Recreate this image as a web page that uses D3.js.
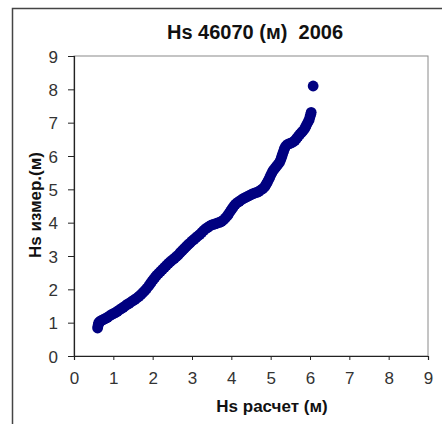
<!DOCTYPE html>
<html><head><meta charset="utf-8">
<script src="https://cdn.jsdelivr.net/npm/d3@7"></script>
<style>body{margin:0;background:#fff}svg{display:block}</style>
</head><body>
<script>
const title = "Hs 46070 (м)  2006";
const xTitle = "Hs расчет (м)";
const yTitle = "Hs измер.(м)";
const xTicks = [0,1,2,3,4,5,6,7,8,9];
const yTicks = [0,1,2,3,4,5,6,7,8,9];
const hsCalc = [0.60,0.61,0.62,0.63,0.66,0.70,0.75,0.80,0.85,0.90,0.95,1.00,1.05,1.10,1.15,1.20,1.25,1.30,1.35,1.40,1.45,1.50,1.55,1.60,1.65,1.70,1.75,1.80,1.85,1.90,1.94,1.98,2.02,2.06,2.10,2.15,2.20,2.25,2.30,2.35,2.40,2.45,2.50,2.55,2.60,2.65,2.70,2.75,2.80,2.85,2.90,2.95,3.00,3.05,3.10,3.15,3.20,3.25,3.30,3.35,3.40,3.45,3.50,3.55,3.60,3.65,3.70,3.75,3.80,3.85,3.90,3.94,3.98,4.02,4.06,4.10,4.15,4.20,4.25,4.30,4.35,4.40,4.45,4.50,4.55,4.60,4.65,4.70,4.75,4.80,4.85,4.88,4.91,4.94,4.97,5.00,5.03,5.06,5.10,5.14,5.18,5.22,5.25,5.27,5.29,5.31,5.33,5.35,5.38,5.42,5.47,5.52,5.57,5.62,5.66,5.70,5.74,5.78,5.82,5.86,5.89,5.92,5.95,5.98,6.00,6.02,6.03,6.08];
const hsMeas = [0.84,0.90,0.95,1.00,1.04,1.07,1.10,1.13,1.16,1.20,1.24,1.27,1.30,1.34,1.38,1.42,1.46,1.50,1.55,1.58,1.62,1.66,1.70,1.74,1.79,1.84,1.90,1.96,2.03,2.10,2.17,2.24,2.30,2.36,2.42,2.48,2.54,2.60,2.66,2.72,2.78,2.83,2.88,2.93,2.98,3.03,3.10,3.16,3.22,3.28,3.34,3.39,3.45,3.50,3.55,3.60,3.65,3.71,3.77,3.82,3.86,3.90,3.93,3.95,3.97,3.99,4.01,4.04,4.08,4.14,4.21,4.28,4.35,4.42,4.49,4.55,4.60,4.64,4.68,4.72,4.75,4.78,4.81,4.84,4.87,4.89,4.91,4.94,4.98,5.02,5.08,5.14,5.20,5.27,5.34,5.42,5.49,5.56,5.62,5.68,5.74,5.80,5.87,5.94,6.01,6.08,6.15,6.22,6.29,6.34,6.37,6.39,6.42,6.47,6.53,6.59,6.65,6.70,6.75,6.81,6.88,6.95,7.02,7.09,7.18,7.25,7.31,8.10];

const W = 442, H = 424;
const m = {left:74, right:14, top:56, bottom:68};
const svg = d3.select("body").append("svg").attr("width",W).attr("height",H);
const font = "'Liberation Sans', Arial, sans-serif";

svg.append("rect").attr("x",12.5).attr("y",8.5).attr("width",W).attr("height",H)
  .attr("fill","none").attr("stroke","#444").attr("stroke-width",1.5);

const x = d3.scaleLinear().domain([0,9]).range([m.left, W-m.right]);
const y = d3.scaleLinear().domain([0,9]).range([H-m.bottom, m.top]);

svg.append("rect").attr("x",x(0)).attr("y",y(9)).attr("width",x(9)-x(0)).attr("height",y(0)-y(9))
  .attr("fill","none").attr("stroke","#8a8a8a").attr("stroke-width",1);

const gx = svg.append("g").attr("transform",`translate(0,${y(0)})`)
  .call(d3.axisBottom(x).tickValues(xTicks).tickSize(4).tickPadding(12).tickFormat(d3.format("d")));
const gy = svg.append("g").attr("transform",`translate(${x(0)},0)`)
  .call(d3.axisLeft(y).tickValues(yTicks).tickSize(6).tickPadding(10).tickFormat(d3.format("d")));
[gx,gy].forEach(g=>{
  g.select(".domain").attr("stroke","#222").attr("stroke-width",1.2);
  g.selectAll(".tick line").attr("stroke","#222");
  g.selectAll(".tick text").attr("fill","#333").style("font-family",font).style("font-size","17px");
});
gy.selectAll(".tick text").attr("dy","0.36em");

const pts = hsCalc.map((v,i)=>[v,hsMeas[i]]);
svg.append("g").selectAll("circle").data(pts).join("circle")
  .attr("cx",d=>x(d[0])).attr("cy",d=>y(d[1])).attr("r",5.4).attr("fill","#000080");

svg.append("text").attr("x",255).attr("y",39).attr("text-anchor","middle")
  .style("font-family",font).style("font-size","20px").style("font-weight","bold").attr("fill","#111")
  .style("white-space","pre").text(title);
svg.append("text").attr("x",272).attr("y",412).attr("text-anchor","middle")
  .style("font-family",font).style("font-size","17px").style("font-weight","bold").attr("fill","#111").text(xTitle);
svg.append("text").attr("transform","translate(41,205) rotate(-90)").attr("text-anchor","middle")
  .style("font-family",font).style("font-size","17px").style("font-weight","bold").attr("fill","#111").text(yTitle);
</script>
</body></html>
